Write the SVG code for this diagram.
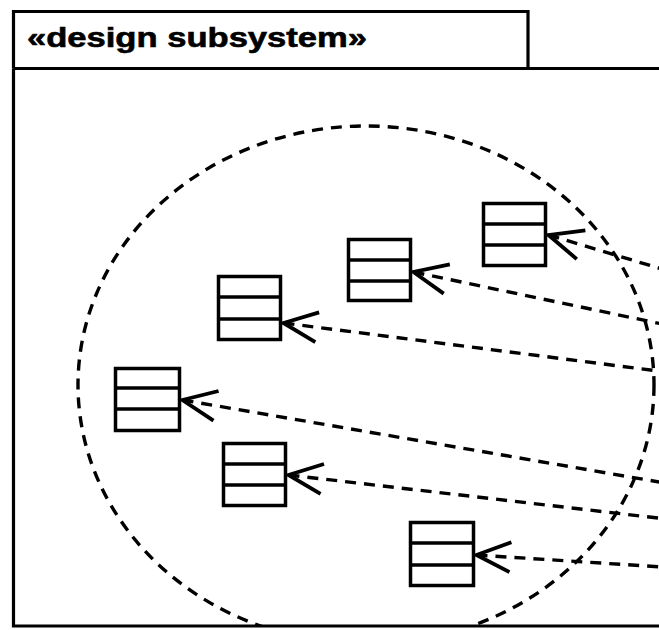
<svg xmlns="http://www.w3.org/2000/svg" width="659" height="630" viewBox="0 0 659 630">
  <style>
    .frame { fill: none; stroke: #000; stroke-width: 3.2; }
    .cls rect { fill: #fff; stroke: #000; stroke-width: 3.5; }
    .cls line { stroke: #000; stroke-width: 3.5; }
    .dep { fill: none; stroke: #000; stroke-width: 3.4; stroke-dasharray: 11 8; marker-start: url(#open); }
    .boundary { fill: none; stroke: #000; stroke-width: 3.4; stroke-dasharray: 11 8; }
    .title { font-family: "Liberation Sans", Arial, Helvetica, sans-serif; font-weight: bold; font-size: 27px; fill: #000; stroke: #000; stroke-width: 0.6; }
  </style>
  <defs>
    <marker id="open" markerUnits="userSpaceOnUse" orient="auto" refX="0" refY="0" markerWidth="80" markerHeight="80" viewBox="-40 -40 80 80" overflow="visible">
      <path d="M34,-15 L0,0 L34,15" fill="none" stroke="#000" stroke-width="3.8" stroke-linejoin="miter"/>
    </marker>
    <clipPath id="bodyclip">
      <rect x="0" y="0" width="659" height="625"/>
    </clipPath>
  </defs>
  <rect width="659" height="630" fill="#fff"/>

  <g id="package">
    <path class="frame" d="M13.5,68.5 V11.5 H528 V68.5"/>
    <path class="frame" d="M13.5,68.5 V626 H662 M13.5,68.5 H662"/>
    <text class="title" x="27" y="47" textLength="340" lengthAdjust="spacingAndGlyphs">«design subsystem»</text>
  </g>

  <g id="boundary">
    <ellipse class="boundary" cx="366" cy="385" rx="288" ry="259" clip-path="url(#bodyclip)"/>
  </g>

  <g id="connectors">
    <line class="dep" x1="548.5" y1="235" x2="662" y2="269"/>
    <line class="dep" x1="413.5" y1="272" x2="662" y2="324"/>
    <line class="dep" x1="283.5" y1="323" x2="662" y2="371.5"/>
    <line class="dep" x1="182.5" y1="400" x2="662" y2="482.5"/>
    <line class="dep" x1="288.5" y1="475" x2="662" y2="518.5"/>
    <line class="dep" x1="476.5" y1="555" x2="662" y2="567"/>
  </g>

  <g id="classA" class="cls">
    <rect x="483.5" y="203.5" width="62" height="62"/>
    <line x1="483.5" y1="224" x2="545.5" y2="224"/>
    <line x1="483.5" y1="245" x2="545.5" y2="245"/>
  </g>
  <g id="classB" class="cls">
    <rect x="348.5" y="239.5" width="62" height="61"/>
    <line x1="348.5" y1="260" x2="410.5" y2="260"/>
    <line x1="348.5" y1="281" x2="410.5" y2="281"/>
  </g>
  <g id="classC" class="cls">
    <rect x="218.5" y="276.5" width="62" height="63"/>
    <line x1="218.5" y1="297" x2="280.5" y2="297"/>
    <line x1="218.5" y1="319" x2="280.5" y2="319"/>
  </g>
  <g id="classD" class="cls">
    <rect x="115.5" y="368.5" width="64" height="62"/>
    <line x1="115.5" y1="388" x2="179.5" y2="388"/>
    <line x1="115.5" y1="409" x2="179.5" y2="409"/>
  </g>
  <g id="classE" class="cls">
    <rect x="223.5" y="443.5" width="62" height="62"/>
    <line x1="223.5" y1="464" x2="285.5" y2="464"/>
    <line x1="223.5" y1="485" x2="285.5" y2="485"/>
  </g>
  <g id="classF" class="cls">
    <rect x="410.5" y="522.5" width="63" height="63"/>
    <line x1="410.5" y1="543" x2="473.5" y2="543"/>
    <line x1="410.5" y1="565" x2="473.5" y2="565"/>
  </g>
</svg>
